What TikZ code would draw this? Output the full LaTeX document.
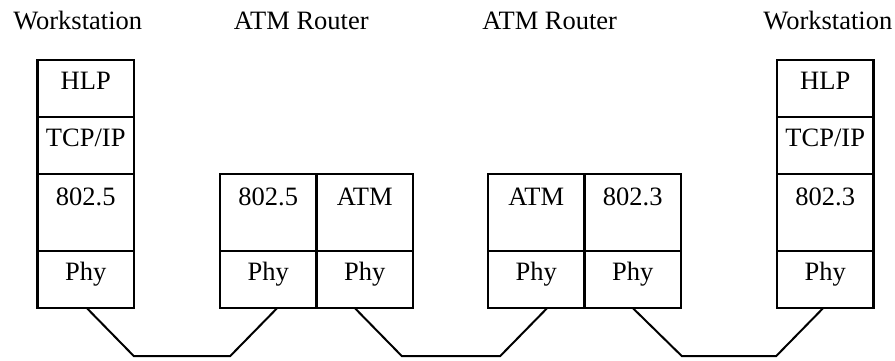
\documentclass[tikz,border=0pt]{standalone}
\usepackage{fontspec}
\setmainfont{Liberation Serif}
\usepackage{tikz}
\usetikzlibrary{positioning,calc}

\begin{document}
\begin{tikzpicture}[x=1pt, y=-1pt,
  cell/.style={draw, rectangle, line width=2.2pt, outer sep=0pt, inner sep=0pt, minimum width=96.5pt, text height=29pt, text depth=28pt, font=\fontsize{26.5}{31}\selectfont},
  tallcell/.style={cell, text height=31pt, text depth=46pt},
  host/.style={anchor=base, font=\fontsize{26.5}{31}\selectfont},
  link/.style={line width=2pt, line join=miter}
]
\useasboundingbox (0,0) rectangle (895,360);

% names over the stacks
\node[host] (ws1name) at (77.7,29) {Workstation};
\node[host] (r1name) at (301.3,29) {ATM Router};
\node[host] (r2name) at (549.7,29) {ATM Router};
\node[host] (ws2name) at (827.8,29) {Workstation};

% left workstation
\node[cell, anchor=north west] (ws1hlp) at (37.5,60) {HLP};
\node[cell, below=0pt of ws1hlp] (ws1tcp) {TCP/IP};
\node[tallcell, below=0pt of ws1tcp] (ws1mac) {802.5};
\node[cell, below=0pt of ws1mac] (ws1phy) {Phy};

% first router
\node[tallcell, anchor=north west] (r1mac) at (220,174) {802.5};
\node[tallcell, right=0pt of r1mac] (r1atm) {ATM};
\node[cell, below=0pt of r1mac] (r1phya) {Phy};
\node[cell, below=0pt of r1atm] (r1phyb) {Phy};

% second router
\node[tallcell, anchor=north west] (r2atm) at (488,174) {ATM};
\node[tallcell, right=0pt of r2atm] (r2mac) {802.3};
\node[cell, below=0pt of r2atm] (r2phya) {Phy};
\node[cell, below=0pt of r2mac] (r2phyb) {Phy};

% right workstation
\node[cell, anchor=north west] (ws2hlp) at (777,60) {HLP};
\node[cell, below=0pt of ws2hlp] (ws2tcp) {TCP/IP};
\node[tallcell, below=0pt of ws2tcp] (ws2mac) {802.3};
\node[cell, below=0pt of ws2mac] (ws2phy) {Phy};

% physical links
\draw[link] ([xshift=1pt]ws1phy.south) -- ++(47,48) -- ($(r1phya.south)+(-38,48)$) -- ([xshift=9pt]r1phya.south);
\draw[link] ([xshift=-10pt]r1phyb.south) -- ++(47,48) -- ($(r2phya.south)+(-36,48)$) -- ([xshift=11pt]r2phya.south);
\draw[link] (r2phyb.south) -- ++(49,48) -- ($(ws2phy.south)+(-49,48)$) -- ([xshift=-2pt]ws2phy.south);

\end{tikzpicture}
\end{document}
